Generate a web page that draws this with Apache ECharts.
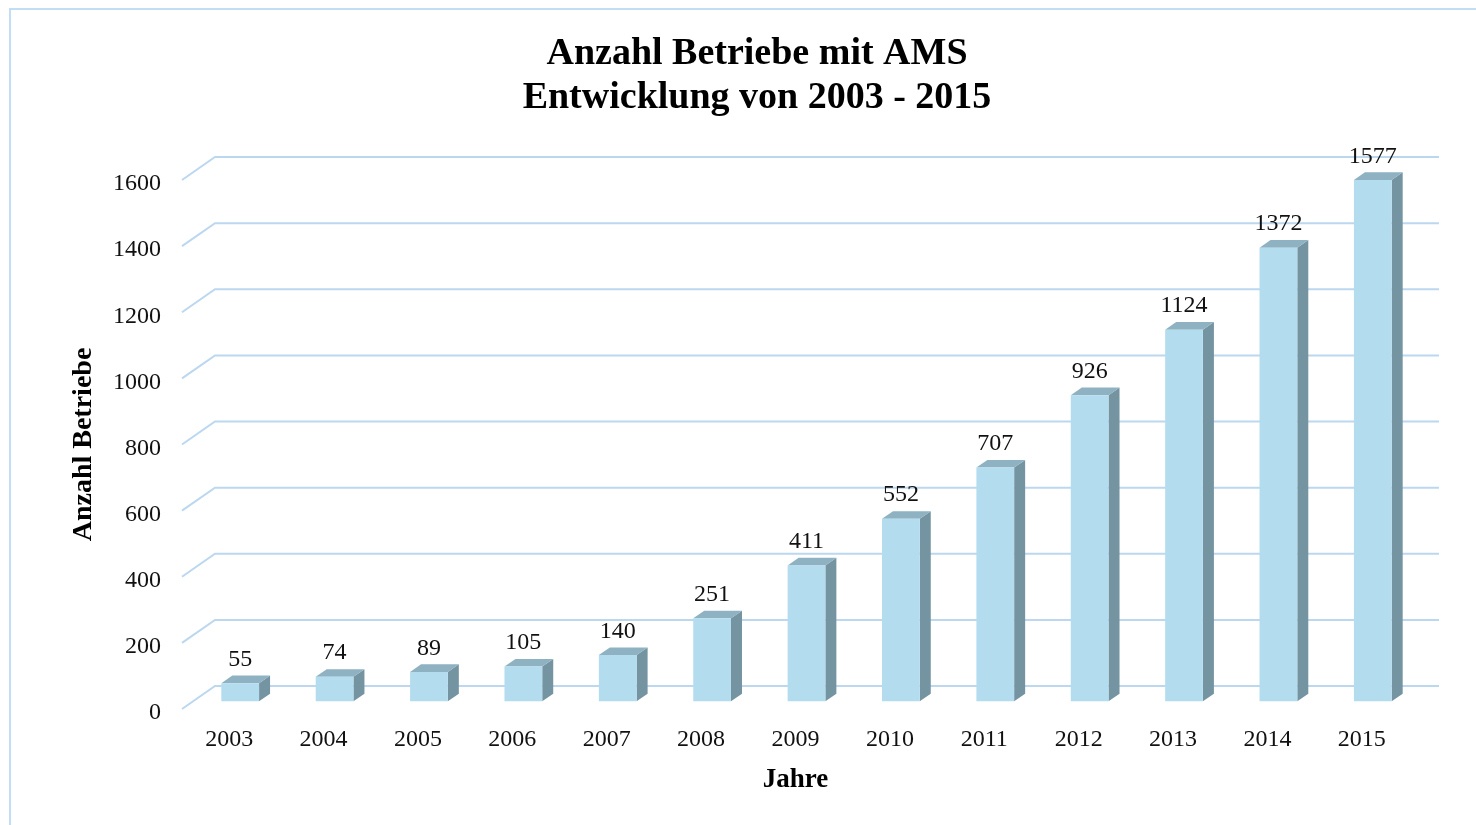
<!DOCTYPE html>
<html>
<head>
<meta charset="utf-8">
<script src="https://cdn.jsdelivr.net/npm/echarts@6/dist/echarts.min.js"></script>
<style>html,body{margin:0;padding:0;background:#fff;}#c{width:1476px;height:825px;}</style>
</head>
<body>
<div id="c"></div>
<script>
var years = ['2003','2004','2005','2006','2007','2008','2009','2010','2011','2012','2013','2014','2015'];
var counts = [55, 74, 89, 105, 140, 251, 411, 552, 707, 926, 1124, 1372, 1577];
var yTicks = [0, 200, 400, 600, 800, 1000, 1200, 1400, 1600];
var titleLines = ['Anzahl Betriebe mit AMS', 'Entwicklung von 2003 - 2015'];
var yName = 'Anzahl Betriebe';
var xName = 'Jahre';

var FONT = '"Liberation Serif", "DejaVu Serif", serif';
var DX = 33, DY = 23;          // full depth of the floor
var BF = 1/3, BB = 2/3;        // bar front/back depth fractions
var GRID_COLOR = '#bcd7f0';

var chart = echarts.init(document.getElementById('c'));

function gridItem(params, api) {
  var cs = params.coordSys;
  var y = api.coord([0, api.value(1)])[1];
  var x0 = cs.x, x1 = cs.x + cs.width;
  return {
    type: 'polyline',
    shape: { points: [[x0, y], [x0 + DX, y - DY], [x1 + DX - 3, y - DY]] },
    style: { stroke: GRID_COLOR, lineWidth: 2, fill: null },
    silent: true
  };
}

function barItem(params, api) {
  var cat = api.value(0), val = api.value(1);
  var band = api.size([1, 0])[0];
  var w = band * 0.4;
  var top = api.coord([cat, val]);
  var base = api.coord([cat, 0]);
  var fx = DX * BF, fy = DY * BF;
  var bx = DX * (BB - BF), by = DY * (BB - BF);
  var xl = top[0] - w / 2 + fx, xr = top[0] + w / 2 + fx;
  var yt = top[1] - fy, yb = base[1] - fy;
  return {
    type: 'group',
    children: [
      { type: 'polygon', shape: { points: [[xr, yt], [xr + bx, yt - by], [xr + bx, yb - by], [xr, yb]] },
        style: { fill: '#7594a2' } },
      { type: 'polygon', shape: { points: [[xl, yt], [xl + bx, yt - by], [xr + bx, yt - by], [xr, yt]] },
        style: { fill: '#8eb2c2' } },
      { type: 'rect', shape: { x: xl, y: yt, width: xr - xl, height: yb - yt },
        style: { fill: '#b3ddef' } },
      { type: 'text', style: { text: String(val), x: (xl + xr) / 2, y: yt - by - 4,
        textAlign: 'center', textVerticalAlign: 'bottom', font: '24px ' + FONT, fill: '#111' } }
    ]
  };
}

chart.setOption({
  animation: false,
  backgroundColor: '#fff',
  title: {
    text: titleLines.join('\n'),
    left: 752, top: 27, textAlign: 'center',
    textStyle: { fontFamily: FONT, fontWeight: 'bold', fontSize: 38, lineHeight: 44, color: '#000' }
  },
  graphic: [{
    type: 'rect', shape: { x: 10, y: 9, width: 1500, height: 900 },
    style: { fill: null, stroke: '#c2def5', lineWidth: 2 }, silent: true
  }],
  grid: { left: 182, right: 67, top: 180, bottom: 116 },
  xAxis: {
    type: 'category', data: years,
    name: xName, nameLocation: 'middle', nameGap: 58,
    nameTextStyle: { fontFamily: FONT, fontWeight: 'bold', fontSize: 27, color: '#000' },
    axisLine: { show: false }, axisTick: { show: false },
    axisLabel: { fontFamily: FONT, fontSize: 24, color: '#111', margin: 19 }
  },
  yAxis: {
    type: 'value', min: 0, max: 1600, interval: 200,
    name: yName, nameLocation: 'middle', nameGap: 84, nameRotate: 90,
    nameTextStyle: { fontFamily: FONT, fontWeight: 'bold', fontSize: 28, color: '#000' },
    axisLine: { show: false }, axisTick: { show: false }, splitLine: { show: false },
    axisLabel: { color: '#111', margin: 21,
      formatter: function (v) { return '{a|' + v + '}'; },
      rich: { a: { fontFamily: FONT, fontSize: 24, color: '#111', padding: [8, 0, 0, 0] } } }
  },
  series: [
    { type: 'custom', renderItem: gridItem, z: 1, silent: true,
      data: yTicks.map(function (t) { return [0, t]; }) },
    { type: 'custom', renderItem: barItem, z: 2,
      data: counts.map(function (v, i) { return [i, v]; }) }
  ]
});
</script>
</body>
</html>
